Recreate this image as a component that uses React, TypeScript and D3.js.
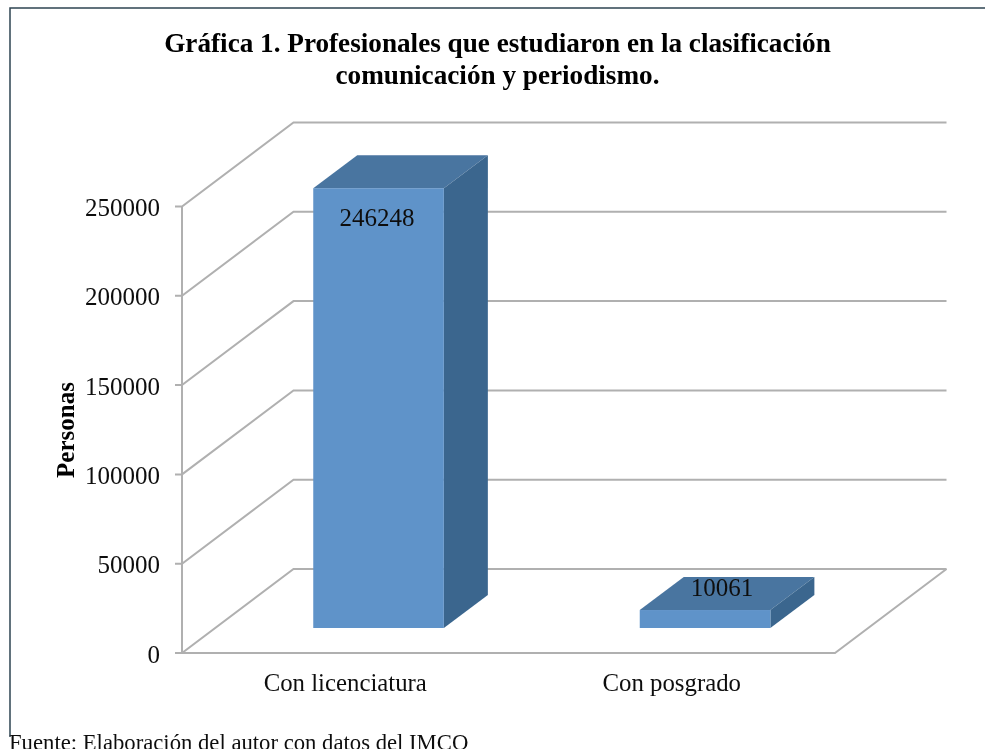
import React from "react";
import * as d3 from "d3";

const categories = ["Con licenciatura", "Con posgrado"];
const values = [246248, 10061];
const yTicks = [0, 50000, 100000, 150000, 200000, 250000];
const titleLines = [
  "Gráfica 1. Profesionales que estudiaron en la clasificación",
  "comunicación y periodismo.",
];
const yTitle = "Personas";
const source = "Fuente: Elaboración del autor con datos del IMCO";

const FONT = "'Liberation Serif', 'Times New Roman', serif";
const GRID = "#b0b0b0";
const FRONT = "#5f93c9";
const TOP = "#4a75a0";
const SIDE = "#3a668e";

// Front plane of the 3D box
const x0 = 182;
const xFrontEnd = 835;
const yBase = 653;
const yTopTick = 206.5;
const depthX = 111.5;
const depthY = -84;
// Bar depth and its placement inside the box
const barDX = 44;
const barDY = -33;
const barShiftX = 33.3;
const barShiftY = -25;

const y = d3.scaleLinear().domain([0, 250000]).range([yBase, yTopTick]);
const xBand = d3.scaleBand<string>().domain(categories).range([x0, xFrontEnd]);
const barWidth = xBand.bandwidth() * 0.4;
const poly = (pts: [number, number][]) => pts.map((p) => p.join(",")).join(" ");
const mid = (c: string) => (xBand(c) as number) + xBand.bandwidth() / 2;

export default function App() {
  const xBack = x0 + depthX;
  const xBackEnd = xFrontEnd + depthX;
  return (
    <svg
      width={985}
      height={749}
      viewBox="0 0 985 749"
      style={{ position: "absolute", left: 0, top: 0, background: "#fff" }}
    >
      <defs>
        <filter id="soft" x="-5%" y="-5%" width="110%" height="110%">
          <feGaussianBlur stdDeviation="0.45" />
        </filter>
      </defs>
      <g filter="url(#soft)">
        <path d="M10,737V8H985" fill="none" stroke="#2f4352" strokeWidth={1.5} />
        {titleLines.map((t, i) => (
          <text
            key={t}
            x={497.5}
            y={52 + i * 31.5}
            textAnchor="middle"
            fontFamily={FONT}
            fontWeight="bold"
            fontSize={27.2}
            fill="#000"
          >
            {t}
          </text>
        ))}

        {/* floor */}
        <path
          d={`M${xBackEnd},${yBase + depthY}L${xFrontEnd},${yBase}L${x0},${yBase}`}
          fill="none"
          stroke={GRID}
          strokeWidth={2}
        />
        {/* walls and gridlines */}
        {yTicks.map((t) => (
          <g key={t}>
            <path
              d={`M${x0 - 7},${y(t)}H${x0}L${xBack},${y(t) + depthY}H${xBackEnd}`}
              fill="none"
              stroke={GRID}
              strokeWidth={2}
            />
            <text
              x={160}
              y={y(t) + 9.5}
              textAnchor="end"
              fontFamily={FONT}
              fontSize={25}
              fill="#111"
            >
              {t}
            </text>
          </g>
        ))}
        <line x1={x0} x2={x0} y1={y(0)} y2={y(250000)} stroke={GRID} strokeWidth={2} />

        {/* 3D bars */}
        {values.map((v, i) => {
          const l = mid(categories[i]) + barShiftX - barWidth / 2;
          const r = l + barWidth;
          const b = y(0) + barShiftY;
          const t = y(v) + barShiftY;
          return (
            <g key={categories[i]}>
              <polygon
                points={poly([[l, t], [l + barDX, t + barDY], [r + barDX, t + barDY], [r, t]])}
                fill={TOP}
              />
              <polygon
                points={poly([[r, t], [r + barDX, t + barDY], [r + barDX, b + barDY], [r, b]])}
                fill={SIDE}
              />
              <rect x={l} y={t} width={barWidth} height={b - t} fill={FRONT} />
            </g>
          );
        })}
        <text x={377} y={225.5} textAnchor="middle" fontFamily={FONT} fontSize={25} fill="#111">
          {values[0]}
        </text>
        <text x={722} y={596} textAnchor="middle" fontFamily={FONT} fontSize={25} fill="#111">
          {values[1]}
        </text>

        {/* category labels */}
        {categories.map((c) => (
          <text
            key={c}
            x={mid(c)}
            y={690.5}
            textAnchor="middle"
            fontFamily={FONT}
            fontSize={24.8}
            fill="#111"
          >
            {c}
          </text>
        ))}

        <text
          transform="translate(74,430) rotate(-90)"
          textAnchor="middle"
          fontFamily={FONT}
          fontWeight="bold"
          fontSize={25}
          fill="#000"
        >
          {yTitle}
        </text>

        <text x={9} y={750} fontFamily={FONT} fontSize={22.7} fill="#111">
          {source}
        </text>
      </g>
    </svg>
  );
}
